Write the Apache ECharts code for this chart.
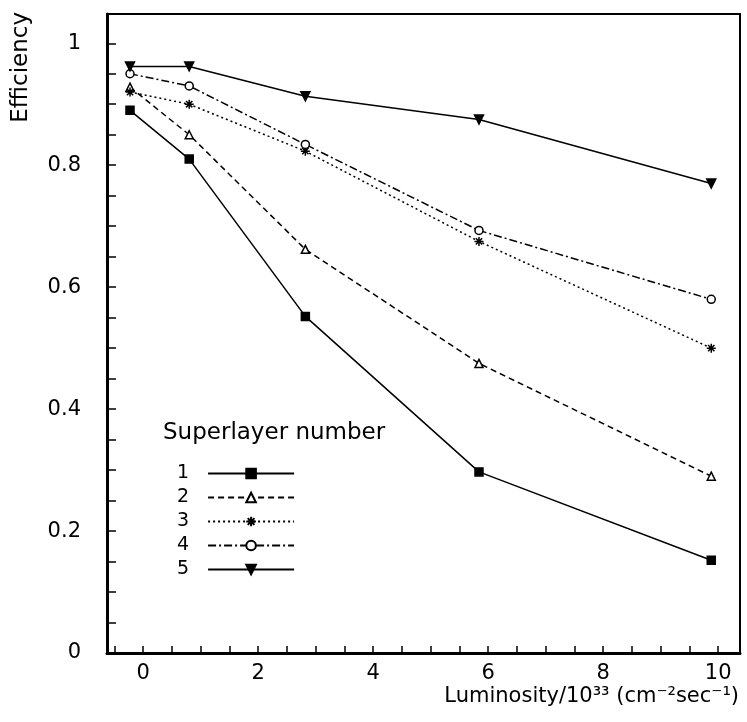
<!DOCTYPE html>
<html>
<head>
<meta charset="UTF-8">
<script src="https://cdn.jsdelivr.net/npm/echarts@6/dist/echarts.min.js"></script>
</head>
<body style="margin:0;background:#fff">
<div id="main" style="width:747px;height:722px"></div>
<script>
  var lumi = [-0.23, 0.8, 2.82, 5.84, 9.88];
  var names = ['1', '2', '3', '4', '5'];
  var eff1 = [0.89, 0.81, 0.552, 0.297, 0.152];
  var eff2 = [0.928, 0.85, 0.662, 0.475, 0.29];
  var eff3 = [0.92, 0.90, 0.823, 0.675, 0.50];
  var eff4 = [0.95, 0.93, 0.834, 0.693, 0.58];
  var eff5 = [0.962, 0.962, 0.913, 0.875, 0.77];
  var xTicks = [0, 2, 4, 6, 8, 10];
  var yTicks = [0, 0.2, 0.4, 0.6, 0.8, 1];

  var effs = [eff1, eff2, eff3, eff4, eff5];
  var symbols = [
    'rect', 'triangle',
    'path://M5,0L5,10M0,5L10,5M1.5,1.5L8.5,8.5M8.5,1.5L1.5,8.5',
    'circle', 'path://M0,0L10,0L5,10Z'
  ];
  var filled = [true, false, false, false, true];
  var dash = ['solid', [6, 4], [2, 3], [8, 3, 2, 3], 'solid'];
  var sizes = [8, 8, 9, 8, 9];

  var xMinor = [], yMinor = [];
  for (var i = -1; i <= 20; i++) xMinor.push(i / 2);
  for (var j = 0; j <= 20; j++) yMinor.push(j / 20);

  var chart = echarts.init(document.getElementById('main'));
  var font = 'DejaVu Sans';
  chart.setOption({
    animation: false,
    textStyle: { fontFamily: font, color: '#000' },
    grid: { left: 107, right: 7, top: 14, bottom: 69, show: true, borderColor: '#000', borderWidth: 2,
            containLabel: false, outerBoundsMode: 'none' },
    xAxis: {
      type: 'value', min: -0.63, max: 10.38,
      axisLine: { onZero: false, lineStyle: { color: '#000', width: 3 } },
      axisTick: { inside: true, length: 7, customValues: xMinor, lineStyle: { color: '#000', width: 1.5 } },
      axisLabel: { customValues: xTicks, fontSize: 21, color: '#000', margin: 10 },
      splitLine: { show: false }
    },
    yAxis: {
      type: 'value', min: 0, max: 1.048,
      axisLine: { onZero: false, lineStyle: { color: '#000', width: 3 } },
      axisTick: { inside: true, length: 9, customValues: yMinor, lineStyle: { color: '#000', width: 1.5 } },
      axisLabel: { customValues: yTicks, fontSize: 21, color: '#000', margin: 26 },
      splitLine: { show: false }
    },
    graphic: [{
      type: 'text', left: 163, top: 422,
      style: { text: 'Superlayer number', font: '23px "DejaVu Sans"', fill: '#000' }
    }, {
      type: 'text', right: 8, top: 686,
      style: { text: 'Luminosity/10³³ (cm⁻²sec⁻¹)', font: '21px "DejaVu Sans"', fill: '#000' }
    }, {
      type: 'text', left: 10, top: 12, rotation: Math.PI / 2, originX: 0, originY: 0,
      style: { text: 'Efficiency', font: '23px "DejaVu Sans"', fill: '#000', align: 'right' }
    }],
    legend: {
      orient: 'vertical', left: 172, top: 459, align: 'right',
      itemWidth: 86, itemHeight: 12, itemGap: 5,
      textStyle: { fontSize: 19, color: '#000', fontFamily: font, padding: [0, 14, 0, 0] },
      data: names
    },
    series: names.map(function (n, k) {
      return {
        name: n, type: 'line',
        data: lumi.map(function (x, m) { return [x, effs[k][m]]; }),
        symbol: symbols[k], symbolSize: sizes[k],
        lineStyle: { color: '#000', width: 1.5, type: dash[k] },
        itemStyle: { color: filled[k] ? '#000' : '#fff', borderColor: '#000', borderWidth: 1.5 }
      };
    })
  });
</script>
</body>
</html>
